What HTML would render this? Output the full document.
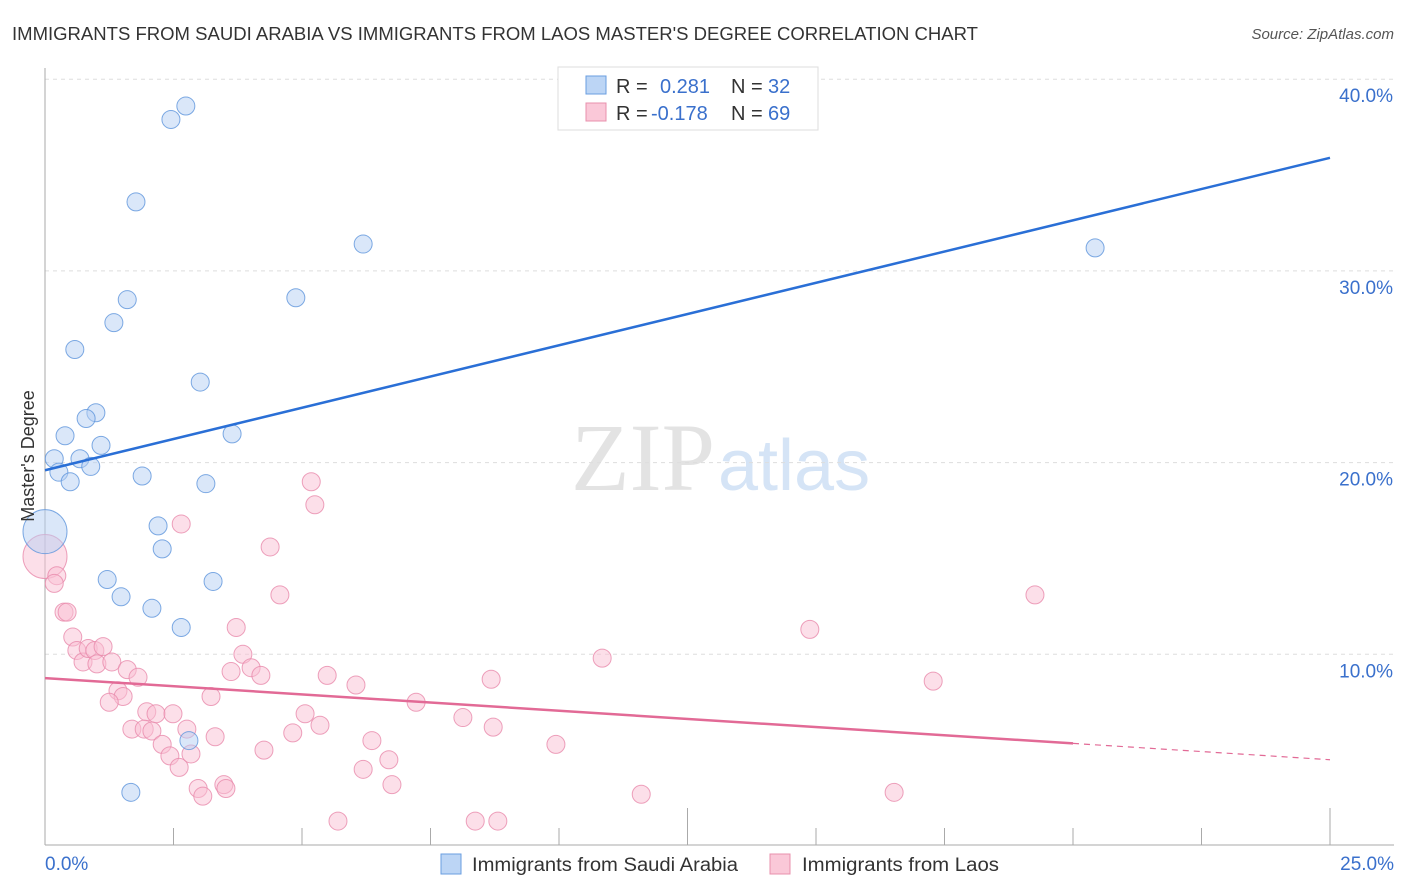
<!DOCTYPE html>
<html><head><meta charset="utf-8"><style>
body{margin:0;background:#fff;font-family:"Liberation Sans",sans-serif}
</style></head><body>
<svg id="c" width="1406" height="892" xmlns="http://www.w3.org/2000/svg" style="display:block">
<text x="12" y="40" font-size="18" fill="#333" textLength="966" lengthAdjust="spacingAndGlyphs">IMMIGRANTS FROM SAUDI ARABIA VS IMMIGRANTS FROM LAOS MASTER'S DEGREE CORRELATION CHART</text>
<text x="1394" y="39" font-size="15" fill="#555" font-style="italic" text-anchor="end">Source: ZipAtlas.com</text>
<text x="715" y="490" font-size="96" fill="#e3e3e3" text-anchor="end" font-family="Liberation Serif,serif">ZIP</text>
<text x="718" y="490" font-size="72" fill="#d5e4f6">atlas</text>
<g id="grid"></g><g id="axes"></g><g id="pts"></g><g id="lines"></g>
<text transform="translate(34,456) rotate(-90)" font-size="18" fill="#333" text-anchor="middle">Master's Degree</text>
<g>
<rect x="558" y="67" width="260" height="63" fill="#fff" stroke="#ddd"/>
<rect x="586" y="76" width="20" height="18" fill="#bcd5f5" stroke="#6a9ee0"/>
<rect x="586" y="103" width="20" height="18" fill="#fac8d8" stroke="#e890ad"/>
<text y="93" font-size="20" fill="#333"><tspan x="616">R =</tspan><tspan x="660" fill="#3a70cc">0.281</tspan><tspan x="731">N =</tspan><tspan x="768" fill="#3a70cc">32</tspan></text>
<text y="120" font-size="20" fill="#333"><tspan x="616">R =</tspan><tspan x="651" fill="#3a70cc">-0.178</tspan><tspan x="731">N =</tspan><tspan x="768" fill="#3a70cc">69</tspan></text>
</g>
<g>
<rect x="441" y="854" width="20" height="20" fill="#bcd5f5" stroke="#6a9ee0"/>
<text x="472" y="871" font-size="19" fill="#333" textLength="266" lengthAdjust="spacingAndGlyphs">Immigrants from Saudi Arabia</text>
<rect x="770" y="854" width="20" height="20" fill="#fac8d8" stroke="#e890ad"/>
<text x="802" y="871" font-size="19" fill="#333" textLength="197" lengthAdjust="spacingAndGlyphs">Immigrants from Laos</text>
</g>
</svg>
<script>
const yTicks=[10,20,30,40];
const yTickLabels=["10.0%","20.0%","30.0%","40.0%"];
const xTickLabels=["0.0%","25.0%"];
const blueX=[2.74,2.45,1.77,6.19,20.43,1.60,4.88,1.34,0.58,3.02,0.99,0.80,0.39,3.64,1.09,0.18,0.68,0.89,0.27,0.49,1.89,3.13,0.0,2.20,2.28,1.21,3.27,1.48,2.08,2.65,2.80,1.67];
const blueY=[38.6,37.9,33.6,31.4,31.2,28.5,28.6,27.3,25.9,24.2,22.6,22.3,21.4,21.5,20.9,20.2,20.2,19.8,19.5,19.0,19.3,18.9,16.4,16.7,15.5,13.9,13.8,13.0,12.4,11.4,5.5,2.8];
const pinkX=[0,0.23,0.18,0.37,0.43,0.54,0.62,0.74,0.84,0.97,1.01,1.13,1.30,1.60,1.81,1.42,1.52,1.25,1.98,2.16,1.69,1.93,2.08,2.28,2.43,2.61,2.49,2.65,2.76,2.84,3.23,3.31,2.98,3.07,3.48,3.52,3.72,3.85,3.62,4.01,4.20,4.26,4.38,4.57,5.06,5.18,5.25,5.35,4.82,5.49,6.05,6.36,6.19,5.70,6.69,6.75,7.22,8.13,8.68,8.72,8.37,8.81,9.94,10.84,11.60,14.88,17.28,16.52,19.26];
const pinkY=[15.1,14.1,13.7,12.2,12.2,10.9,10.2,9.6,10.3,10.2,9.5,10.4,9.6,9.2,8.8,8.1,7.8,7.5,7.0,6.9,6.1,6.1,6.0,5.3,4.7,4.1,6.9,16.8,6.1,4.8,7.8,5.7,3.0,2.6,3.2,3.0,11.4,10.0,9.1,9.3,8.9,5.0,15.6,13.1,6.9,19.0,17.8,6.3,5.9,8.9,8.4,5.5,4.0,1.3,4.5,3.2,7.5,6.7,8.7,6.2,1.3,1.3,5.3,9.8,2.7,11.3,8.6,2.8,13.1];
const blueTrend=[19.6,35.9];
const pinkTrend=[8.76,4.5];
const pinkSolidEnd=20;
const NS="http://www.w3.org/2000/svg";
const X=v=>45+v/25*1285, Y=v=>846-v*19.17;
function mk(t,a,p){const e=document.createElementNS(NS,t);for(const k in a)e.setAttribute(k,a[k]);document.getElementById(p).appendChild(e);return e;}
yTicks.forEach((t,i)=>{
 let g=mk('line',{x1:45,x2:1394,y1:Y(t),y2:Y(t),stroke:'#ddd','stroke-dasharray':'4,4'},'grid');
 
 
 let l=mk('text',{x:1393,y:Y(t)+23,'font-size':19,fill:'#3a70cc','text-anchor':'end'},'grid');
 l.textContent=yTickLabels[i];
 
 
});
let ax=mk('line',{x1:45,x2:1394,y1:845,y2:845,stroke:'#aaa'},'axes');


let ay=mk('line',{x1:45,x2:45,y1:68,y2:845,stroke:'#aaa'},'axes');


for(let i=0;i<=10;i++){const v=i*2.5;
 let t=mk('line',{x1:X(v),x2:X(v),y1:(i==5||i==10)?808:828,y2:845,stroke:'#aaa'},'axes');
 
 }
[[0,'start',45],[25,'end',1394]].forEach((d,i)=>{
 let l=mk('text',{x:d[2],y:870,'font-size':19,fill:'#3a70cc','text-anchor':d[1]},'axes');
 l.textContent=xTickLabels[i];
 
 });
function pts(xs,ys,fill,stroke,name,bigIdx){xs.forEach((x,i)=>{
 let c=mk('circle',{cx:X(x),cy:Y(ys[i]),r:i===bigIdx?22:9,fill:fill,'fill-opacity':0.5,stroke:stroke,'stroke-opacity':0.8,'stroke-width':1},'pts');
 
 });}
pts(pinkX,pinkY,'#f9c0d3','#e88aab','laos-point',0);
pts(blueX,blueY,'#b5d0f3','#5e95dc','saudi-arabia-point',22);
let bl=mk('line',{x1:X(0),y1:Y(blueTrend[0]),x2:X(25),y2:Y(blueTrend[1]),stroke:'#2a6fd6','stroke-width':2.5},'lines');


const pm=v=>pinkTrend[0]+(pinkTrend[1]-pinkTrend[0])*v/25;
let pl=mk('line',{x1:X(0),y1:Y(pm(0)),x2:X(pinkSolidEnd),y2:Y(pm(pinkSolidEnd)),stroke:'#e26a96','stroke-width':2.5},'lines');


let pd=mk('line',{x1:X(pinkSolidEnd),y1:Y(pm(pinkSolidEnd)),x2:X(25),y2:Y(pm(25)),stroke:'#e26a96','stroke-width':1.2,'stroke-dasharray':'6,5'},'lines');


</script>
</body></html>
